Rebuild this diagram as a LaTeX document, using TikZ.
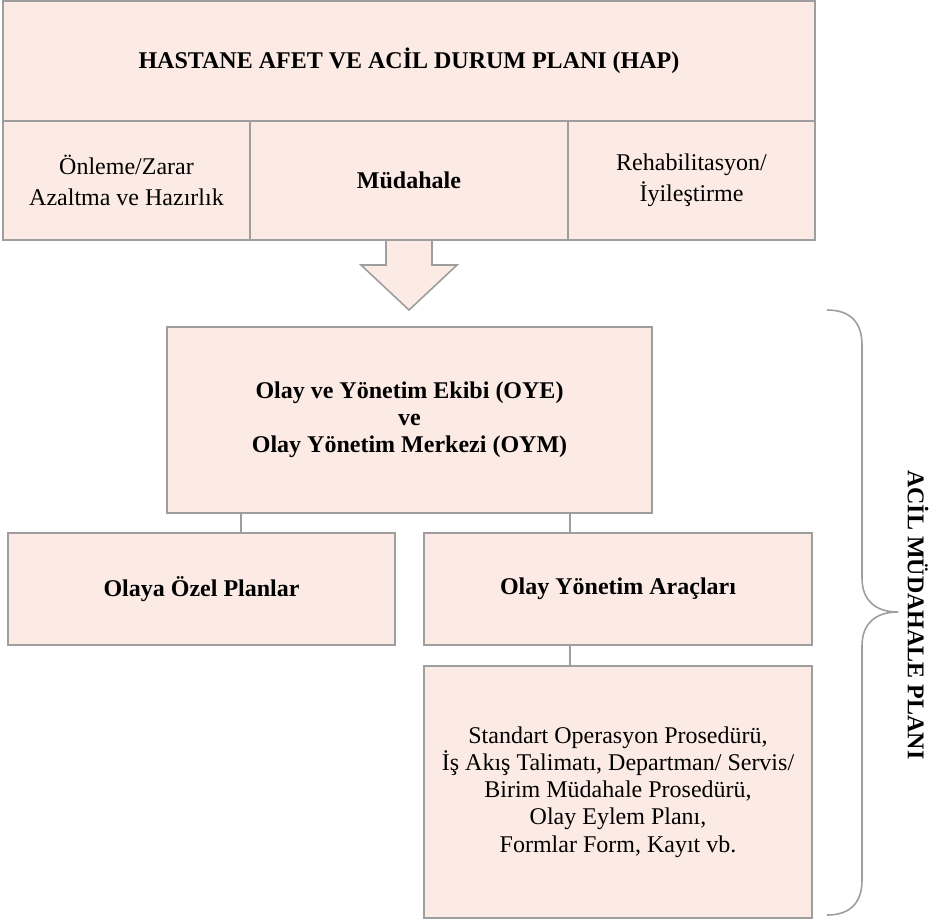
\documentclass[tikz,border=0pt]{standalone}
\usepackage{fontspec}
\setmainfont{Liberation Serif}
\usepackage{tikz}
\usetikzlibrary{positioning}
\usepackage{xcolor}
\definecolor{hapfill}{RGB}{252,235,228}
\definecolor{hapline}{RGB}{158,158,158}

\begin{document}
\begin{tikzpicture}[
        x=0.5pt, y=-0.5pt,
        box/.style={rectangle, draw=hapline, fill=hapfill, line width=0.8pt, inner sep=2pt, align=center, font=\fontsize{12}{13.6}\selectfont},
        boldbox/.style={box, font=\fontsize{12}{13.6}\selectfont\bfseries},
        link/.style={draw=hapline, line width=0.8pt}
    ]
        \useasboundingbox (0,0) rectangle (936,920);

        % Plan basligi ve evreler
        \node[boldbox, minimum width=406pt, minimum height=60pt] (hap) at (409,61) {HASTANE AFET VE ACİL DURUM PLANI (HAP)};
        \node[box, minimum width=123.5pt, minimum height=59.5pt] (onleme) at (126.5,180.5) {Önleme/Zarar\\[2pt]Azaltma ve Hazırlık};
        \node[boldbox, minimum width=159pt, minimum height=59.5pt] (mudahale) at (409,180.5) {Müdahale};
        \node[box, minimum width=123.5pt, minimum height=59.5pt] (rehab) at (691.5,180.5) {Rehabilitasyon/\\[2pt]İyileştirme};

        % Blok ok
        \filldraw[draw=hapline, fill=hapfill, line width=0.8pt, line join=miter]
            (386,241) -- (386,265) -- (361,265) -- (409,310) -- (457,265) -- (432,265) -- (432,241);

        % Acil mudahale plani kutulari
        \node[boldbox, minimum width=242.5pt, minimum height=93pt] (oye) at (409.5,420) {Olay ve Yönetim Ekibi (OYE)\\ve\\Olay Yönetim Merkezi (OYM)};
        \node[boldbox, minimum width=193.5pt, minimum height=56pt] (ozel) at (201.5,589) {Olaya Özel Planlar};
        \node[boldbox, minimum width=194pt, minimum height=56pt] (arac) at (618,589) {Olay Yönetim Araçları};
        \node[box, minimum width=194pt, minimum height=126pt] (belge) at (618,792) {Standart Operasyon Prosedürü,\\İş Akış Talimatı, Departman/ Servis/\\Birim Müdahale Prosedürü,\\Olay Eylem Planı,\\Formlar Form, Kayıt vb.};

        % Baglantilar
        \draw[link] ([xshift=19.75pt]ozel.north) -- ([xshift=19.75pt]ozel.north |- oye.south);
        \draw[link] ([xshift=-24pt]arac.north) -- ([xshift=-24pt]arac.north |- oye.south);
        \draw[link] ([xshift=-24pt]arac.south) -- ([xshift=-24pt]belge.north);

        % Kume parantezi
        \draw[draw=hapline, line width=0.8pt]
            (827,310) .. controls (850,310) and (862,322) .. (862,345) -- (862,578)
            .. controls (862,600) and (875,612) .. (898,612)
            .. controls (875,612) and (862,624) .. (862,646) -- (862,880)
            .. controls (862,903) and (850,915) .. (827,915);
        \node[rotate=-90, font=\fontsize{12}{13.6}\selectfont\bfseries] (amp) at (918,615) {ACİL MÜDAHALE PLANI};
    \end{tikzpicture}
\end{document}
